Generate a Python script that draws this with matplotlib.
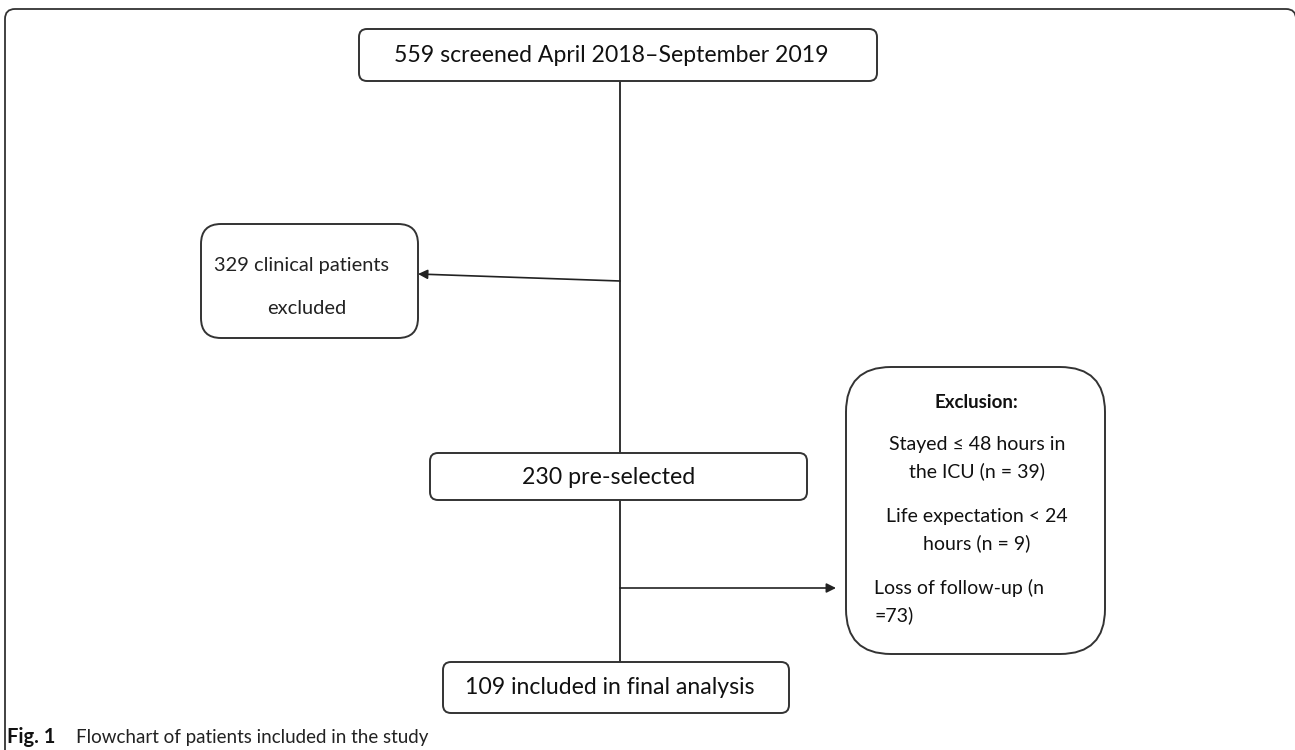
# Flowchart of patients included in the study

import matplotlib
matplotlib.use("Agg")
import matplotlib.pyplot as plt
from matplotlib.patches import FancyBboxPatch

plt.rcParams['font.family'] = ['Lato', 'DejaVu Sans']

# box texts / counts
screened_text = "559 screened April 2018\u2013September 2019"
excluded_text = ["329 clinical patients", "excluded"]
preselected_text = "230 pre-selected"
exclusion_title = "Exclusion:"
exclusion_items = ["Stayed \u2264 48 hours in\nthe ICU (n = 39)",
                   "Life expectation < 24\nhours (n = 9)",
                   "Loss of follow-up (n\n=73)"]
final_text = "109 included in final analysis"
caption_bold = "Fig. 1"
caption_text = "Flowchart of patients included in the study"

W, H = 1295, 750
fig = plt.figure(figsize=(W / 100, H / 100), dpi=100)
ax = fig.add_axes([0, 0, 1, 1])
ax.set_xlim(0, W)
ax.set_ylim(H, 0)
ax.axis('off')

edge = '#333333'


def box(x0, y0, x1, y1, r, lw=1.4, z=2):
    p = FancyBboxPatch((x0, y0), x1 - x0, y1 - y0,
                       boxstyle="round,pad=0,rounding_size=%g" % r,
                       fc='white', ec=edge, lw=lw, zorder=z)
    ax.add_patch(p)


# outer frame (runs off the bottom and right of the picture)
box(5, 9, 1296, 820, 10, lw=1.3, z=0)

# main spine
ax.plot([620, 620], [80, 663], color='#222222', lw=1.3, zorder=1)

# arrows
ax.annotate("", xy=(418, 274), xytext=(620, 281),
            arrowprops=dict(arrowstyle='-|>', color='#222222', lw=1.2,
                            mutation_scale=14, shrinkA=0, shrinkB=0))
ax.annotate("", xy=(836, 588), xytext=(620, 588),
            arrowprops=dict(arrowstyle='-|>', color='#222222', lw=1.2,
                            mutation_scale=14, shrinkA=0, shrinkB=0))

# boxes
box(359, 29, 877, 81, 8)
box(201, 224, 418, 338, 20)
box(430, 453, 807, 500, 8)
box(443, 662, 789, 713, 8)
box(846, 367, 1105, 654, 45)

# texts
ax.text(611, 56, screened_text, ha='center', va='center', fontsize=16.6, color='#111111')
ax.text(302, 265, excluded_text[0], ha='center', va='center', fontsize=14.4, color='#222222')
ax.text(307, 308, excluded_text[1], ha='center', va='center', fontsize=14.4, color='#222222')
ax.text(609, 477, preselected_text, ha='center', va='center', fontsize=16.7, color='#111111')
ax.text(610, 687, final_text, ha='center', va='center', fontsize=16.6, color='#111111')

ax.text(976, 403, exclusion_title, ha='center', va='center', fontsize=13.5,
        fontweight='bold', color='#111111')
item_y = [458, 530, 602]
for i, t in enumerate(exclusion_items):
    if i < 2:
        ax.text(977, item_y[i], t, ha='center', va='center', fontsize=14,
                linespacing=1.62, color='#111111')
    else:
        ax.text(874, item_y[i], t, ha='left', va='center', fontsize=14,
                linespacing=1.62, color='#111111')

# caption
ax.text(7, 737, caption_bold, ha='left', va='center', fontsize=14.5,
        fontweight='bold', color='#111111')
ax.text(76, 737, caption_text, ha='left', va='center', fontsize=13.5, color='#222222')

fig.savefig("out.png", dpi=100)
